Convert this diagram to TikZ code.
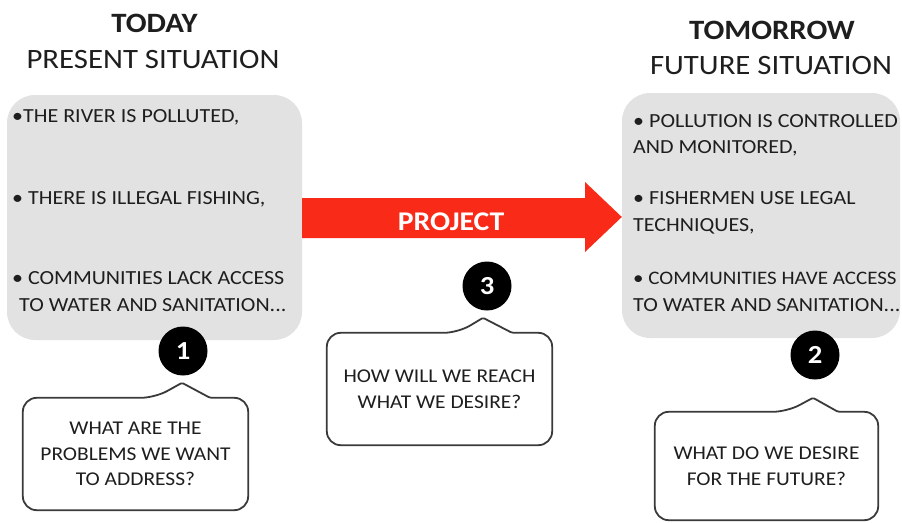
\documentclass[tikz,border=0pt]{standalone}
\usepackage{fontspec}
\setmainfont{Carlito}[FakeStretch=1.1]
\usetikzlibrary{calc}
\definecolor{boxgray}{HTML}{E2E2E2}
\definecolor{projred}{HTML}{FA2A18}
\definecolor{txt}{HTML}{1E1E1E}
\definecolor{outl}{HTML}{3A3A3A}
\tikzset{
  graybox/.style={fill=boxgray, rounded corners=28pt, inner sep=0pt},
  bodytext/.style={anchor=base west, inner sep=0pt, text=txt, font=\fontsize{20}{24}\selectfont},
  titlebold/.style={anchor=base, inner sep=0pt, text=txt, font=\fontsize{28}{32}\selectfont\bfseries},
  titlereg/.style={anchor=base, inner sep=0pt, text=txt, font=\fontsize{28}{32}\selectfont},
  numcirc/.style={circle, fill=black, text=white, minimum size=49pt, inner sep=0pt, font=\fontsize{26}{28}\selectfont\bfseries},
  qbox/.style={inner sep=0pt, align=center, text=txt, font=\fontsize{19.5}{25.5}\selectfont},
  calloutline/.style={draw=outl, line width=1.8pt, line join=round},
}
\begin{document}
\begin{tikzpicture}[x=1pt,y=-1pt]
\useasboundingbox (0,0) rectangle (902,522);

% titles
\node[titlebold] (t1) at (154.5,32) {TODAY};
\node[titlereg] (t2) at (153,68) {PRESENT SITUATION};
\node[titlebold] (t3) at (772,39) {TOMORROW};
\node[titlereg] (t4) at (771,74) {FUTURE SITUATION};

% gray boxes
\node[graybox, minimum width=295pt, minimum height=245pt] (left) at (154.5,217.5) {};
\node[graybox, minimum width=278pt, minimum height=245pt] (right) at (761,215.5) {};

% left text
\node[bodytext] (l1) at (12,122) {•THE RIVER IS POLLUTED,};
\node[bodytext] (l2) at (12,204) {• THERE IS ILLEGAL FISHING,};
\node[bodytext] (l3) at (12,284) {• COMMUNITIES LACK ACCESS};
\node[bodytext] (l4) at (19,311) {TO WATER AND SANITATION...};

% right text
\node[bodytext] (r1) at (633,127) {• POLLUTION IS CONTROLLED};
\node[bodytext] (r2) at (633,153) {AND MONITORED,};
\node[bodytext] (r3) at (633,204) {• FISHERMEN USE LEGAL};
\node[bodytext] (r4) at (633,231) {TECHNIQUES,};
\node[bodytext, font=\fontsize{19.1}{24}\selectfont] (r5) at (633,284) {• COMMUNITIES HAVE ACCESS};
\node[bodytext] (r6) at (633,311) {TO WATER AND SANITATION...};

% project arrow
\fill[projred] (left.east |- 0,198) -- (585,198) -- (585,182) -- (right.west |- 0,217)
  -- (585,252) -- (585,238) -- (left.east |- 0,238) -- cycle;
\node[anchor=base, inner sep=0pt, text=white, font=\fontsize{27}{30}\selectfont\bfseries] (proj) at (451,230) {PROJECT};

% number circles
\node[numcirc] (n1) at (183,351) {1};
\node[numcirc] (n2) at (815,355) {2};
\node[numcirc] (n3) at (487,286) {3};

% callouts
\node[qbox, minimum width=225pt, minimum height=112pt] (q1) at (135.5,454) {WHAT ARE THE\\PROBLEMS WE WANT\\TO ADDRESS?};
\node[qbox, minimum width=225pt, minimum height=112pt] (q3) at (439.5,389) {HOW WILL WE REACH\\WHAT WE DESIRE?};
\node[qbox, minimum width=223pt, minimum height=108pt] (q2) at (766.5,466) {WHAT DO WE DESIRE\\FOR THE FUTURE?};

\draw[calloutline, rounded corners=14pt] (q1.west) -- (q1.north west)
  -- ($(q1.north)+(19.5,0)$) [rounded corners=1.5pt] -- ($(q1.north)+(46.5,-15)$)
  -- ($(q1.north)+(74.5,0)$) [rounded corners=14pt] -- (q1.north east)
  -- (q1.south east) -- (q1.south west) -- cycle;
\draw[calloutline, rounded corners=14pt] (q3.west) -- (q3.north west)
  -- ($(q3.north)+(18.5,0)$) [rounded corners=1.5pt] -- ($(q3.north)+(43.5,-15)$)
  -- ($(q3.north)+(72.5,0)$) [rounded corners=14pt] -- (q3.north east)
  -- (q3.south east) -- (q3.south west) -- cycle;
\draw[calloutline, rounded corners=14pt] (q2.west) -- (q2.north west)
  -- ($(q2.north)+(20.5,0)$) [rounded corners=1.5pt] -- ($(q2.north)+(46.5,-14)$)
  -- ($(q2.north)+(71.5,0)$) [rounded corners=14pt] -- (q2.north east)
  -- (q2.south east) -- (q2.south west) -- cycle;
\end{tikzpicture}
\end{document}
